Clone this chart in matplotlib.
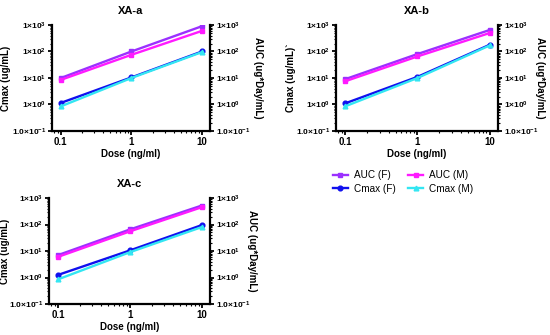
import numpy as np
import matplotlib
matplotlib.use("Agg")
import matplotlib.pyplot as plt
from matplotlib.ticker import FixedLocator, LogLocator, NullFormatter

plt.rcParams['font.family'] = ['Liberation Sans', 'DejaVu Sans']
plt.rcParams['mathtext.fontset'] = 'custom'
plt.rcParams['mathtext.rm'] = 'Liberation Sans'
plt.rcParams['mathtext.bf'] = 'Liberation Sans:bold'

# dose levels
dose = [0.1, 1, 10]

# panel XA-a
a_auc_f = [10, 100, 900]
a_auc_m = [8.5, 75, 600]
a_cmax_f = [1.15, 10.5, 100]
a_cmax_m = [0.85, 10, 95]

# panel XA-b
b_auc_f = [9, 80, 650]
b_auc_m = [7.5, 65, 500]
b_cmax_f = [1.1, 11, 180]
b_cmax_m = [0.85, 10, 170]

# panel XA-c
c_auc_f = [7, 65, 520]
c_auc_m = [6, 55, 450]
c_cmax_f = [1.25, 10.5, 95]
c_cmax_m = [0.85, 9, 80]

y_ticks = [0.1, 1, 10, 100, 1000]
y_labels = [r'$\mathbf{1.0{\times}10^{-1}}$', r'$\mathbf{1{\times}10^{0}}$',
            r'$\mathbf{1{\times}10^{1}}$', r'$\mathbf{1{\times}10^{2}}$',
            r'$\mathbf{1{\times}10^{3}}$']
x_ticks = [0.1, 1, 10]
x_labels = ['0.1', '1', '10']

colors = {'AUC (F)': '#9b30ff', 'AUC (M)': '#ff1aff',
          'Cmax (F)': '#1010ee', 'Cmax (M)': '#33e6f2'}
markers = {'AUC (F)': 's', 'AUC (M)': 's', 'Cmax (F)': 'o', 'Cmax (M)': '^'}

W, H = 550, 335
fig = plt.figure(figsize=(5.5, 3.35), dpi=100)


def box(l, r, t, b):
    return [l / W, 1 - b / H, (r - l) / W, (b - t) / H]


def panel(l, r, t, b, title, series, ylab, left_x, right_x):
    ax = fig.add_axes(box(l, r, t, b))
    for name, vals in series:
        ax.plot(dose, vals, color=colors[name], marker=markers[name],
                markersize=3.4, lw=1.7, label=name)
    ax.set_xscale('log')
    ax.set_yscale('log')
    ax.set_xlim(0.075, 13)
    ax.set_ylim(0.1, 1000)
    ax.xaxis.set_major_locator(FixedLocator(x_ticks))
    ax.set_xticklabels(x_labels, fontweight='bold', fontsize=7)
    ax.xaxis.set_minor_locator(LogLocator(base=10, subs=np.arange(2, 10)))
    ax.xaxis.set_minor_formatter(NullFormatter())
    ax.yaxis.set_major_locator(FixedLocator(y_ticks))
    ax.set_yticklabels(y_labels, fontsize=6)
    ax.yaxis.set_minor_locator(LogLocator(base=10, subs=np.arange(2, 10)))
    ax.yaxis.set_minor_formatter(NullFormatter())
    ax.tick_params(which='major', length=3, width=1.3, pad=1)
    ax.tick_params(which='minor', length=1.6, width=0.8)
    for s in ['top', 'right']:
        ax.spines[s].set_visible(False)
    for s in ['left', 'bottom']:
        ax.spines[s].set_linewidth(1.6)
    ax.set_title(title, fontsize=8, fontweight='bold', pad=8)
    ax.set_xlabel('Dose (ng/ml)', fontsize=7, fontweight='bold', labelpad=2)
    ax.set_ylabel(ylab, fontsize=7, fontweight='bold')
    ax.yaxis.set_label_coords((left_x - l) / (r - l), 0.5)

    ax2 = ax.twinx()
    ax2.set_yscale('log')
    ax2.set_ylim(0.1, 1000)
    ax2.yaxis.set_major_locator(FixedLocator(y_ticks))
    ax2.set_yticklabels(y_labels, fontsize=6)
    ax2.yaxis.set_minor_locator(LogLocator(base=10, subs=np.arange(2, 10)))
    ax2.yaxis.set_minor_formatter(NullFormatter())
    ax2.tick_params(which='major', length=3, width=1.3, pad=1)
    ax2.tick_params(which='minor', length=1.6, width=0.8)
    for s in ['top', 'left', 'bottom']:
        ax2.spines[s].set_visible(False)
    ax2.spines['right'].set_linewidth(1.6)
    ax2.set_ylabel('AUC (ug*Day/mL)', fontsize=7, fontweight='bold',
                   rotation=270, va='center')
    ax2.yaxis.set_label_coords((right_x - l) / (r - l), 0.5)
    return ax


ax_a = panel(52, 210, 25, 131, 'XA-a',
             [('AUC (F)', a_auc_f), ('AUC (M)', a_auc_m),
              ('Cmax (F)', a_cmax_f), ('Cmax (M)', a_cmax_m)],
             'Cmax (ug/mL)', 11, 258)
ax_b = panel(336, 498, 25, 131, 'XA-b',
             [('AUC (F)', b_auc_f), ('AUC (M)', b_auc_m),
              ('Cmax (F)', b_cmax_f), ('Cmax (M)', b_cmax_m)],
             'Cmax (ug/mL)`', 296, 540)
ax_c = panel(49, 210, 198, 304, 'XA-c',
             [('AUC (F)', c_auc_f), ('AUC (M)', c_auc_m),
              ('Cmax (F)', c_cmax_f), ('Cmax (M)', c_cmax_m)],
             'Cmax (ug/mL)', 10, 252)

handles, labels = ax_a.get_legend_handles_labels()
order = [0, 2, 1, 3]
fig.legend([handles[i] for i in order], [labels[i] for i in order],
           loc='center', bbox_to_anchor=(403 / W, 1 - 182 / H), ncol=2,
           frameon=False, fontsize=7.2, handlelength=1.5, columnspacing=1.3,
           handletextpad=0.6, labelspacing=0.35)

fig.savefig('out.png', dpi=100)
